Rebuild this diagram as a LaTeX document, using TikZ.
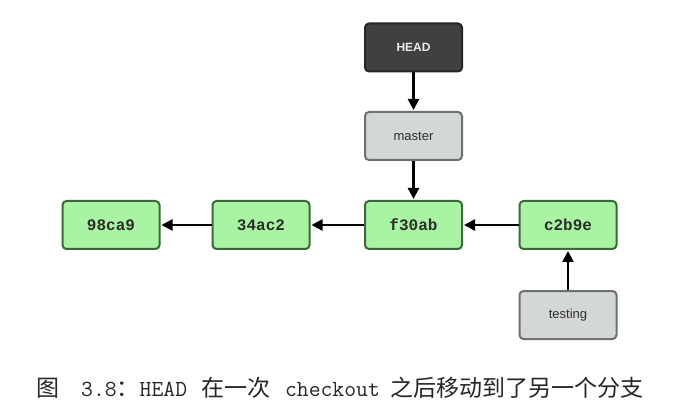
\documentclass[tikz,border=0pt]{standalone}
\usepackage{fontspec}
\setmainfont{Liberation Sans}
\newfontfamily\cjk{Noto Sans CJK SC}
\newfontfamily\commitfont{Liberation Mono}
\newfontfamily\captt{Latin Modern Mono}
\usetikzlibrary{arrows.meta}
\definecolor{cfill}{RGB}{168,244,162}
\definecolor{cdraw}{RGB}{58,104,58}
\definecolor{gfill}{RGB}{211,216,214}
\definecolor{gdraw}{RGB}{110,112,112}
\definecolor{hfill}{RGB}{64,64,64}
\definecolor{hdraw}{RGB}{38,38,38}
\definecolor{ctext}{RGB}{45,45,45}
\tikzset{
  box/.style={rounded corners=4pt, line width=2pt, minimum width=97pt, minimum height=48pt, inner sep=0pt},
  commit/.style={box, fill=cfill, draw=cdraw, text=ctext, font=\commitfont\bfseries\fontsize{16}{16}\selectfont},
  branch/.style={box, fill=gfill, draw=gdraw, text=ctext, font=\fontsize{13}{13}\selectfont},
  headbox/.style={box, fill=hfill, draw=hdraw, text=white!92!black, font=\bfseries\fontsize{12}{12}\selectfont},
  ptr/.style={line width=2.4pt, -{Triangle[length=11pt,width=11pt]}, shorten >=1pt}
}
\begin{document}
\begin{tikzpicture}[x=1pt,y=-1pt]
\useasboundingbox[fill=white] (0,0) rectangle (697,417);
\node[headbox] (head) at (413.5,47.5) {HEAD};
\node[branch] (master) at (413.5,136) {master};
\node[commit] (c98) at (111,225) {98ca9};
\node[commit] (c34) at (261,225) {34ac2};
\node[commit] (cf3) at (413.5,225) {f30ab};
\node[commit] (cc2) at (568,225) {c2b9e};
\node[branch] (testing) at (568,315) {testing};
\draw[ptr] (head) -- (master);
\draw[ptr] (master) -- (cf3);
\draw[ptr] (c34) -- (c98);
\draw[ptr] (cf3) -- (c34);
\draw[ptr] (cc2) -- (cf3);
\draw[ptr] (testing) -- (cc2);
\node[anchor=west, inner sep=0pt, text=black!85, font=\fontsize{23}{23}\selectfont] (cap) at (36,388)
 {{\cjk 图}\hspace{22pt}{\captt 3.8}{\cjk ：}{\captt HEAD}\hspace{14pt}{\cjk 在一次}\hspace{15pt}{\captt checkout}\hspace{11pt}{\cjk 之后移动到了另一个分支}};
\end{tikzpicture}
\end{document}
